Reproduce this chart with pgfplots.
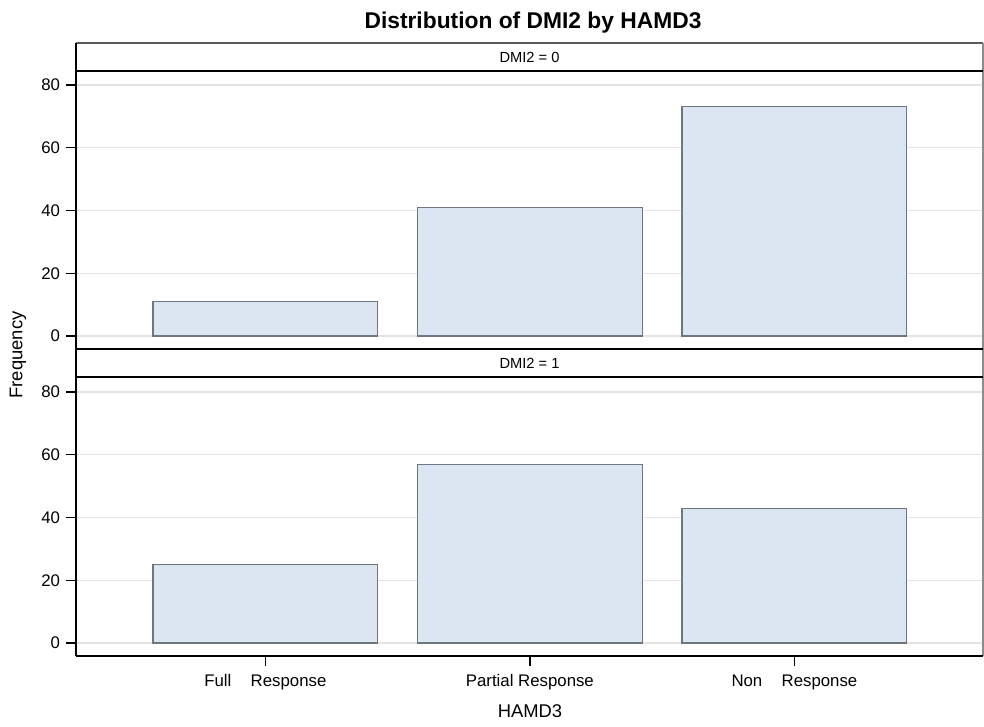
\documentclass[border=0pt]{standalone}
\usepackage{fontspec}
\setmainfont{Liberation Sans}
\usepackage{pgfplots}
\pgfplotsset{compat=1.18}
\definecolor{barfill}{RGB}{220,230,242}
\definecolor{barline}{RGB}{112,118,126}
\definecolor{gridc}{RGB}{228,228,228}
\pgfplotsset{panel/.style={
  scale only axis, width=680.25pt,
  xmin=-0.716, xmax=2.713,
  ytick={0,20,40,60,80},
  ymajorgrids, grid style={draw=gridc, line width=0.9pt},
  axis line style={draw=none},
  tick pos=left, tick align=outside,
  major tick length=7.5pt,
  tick style={black, line width=1.1pt},
  tick label style={font=\fontsize{12.6}{15}\selectfont},
  /pgf/number format/assume math mode=true,
  yticklabel style={xshift=-1pt},
  ybar, bar width=0.85,
  clip=false,
}}
\begin{document}
\begin{tikzpicture}[x=0.75pt,y=0.75pt]
\path[use as bounding box] (0,0) rectangle (984,-727);
\begin{axis}[panel, at={(57pt,-53.25pt)}, anchor=north west,
  height=208.5pt, ymin=-4.143, ymax=84.46, xtick=\empty]
\addplot[fill=barfill, draw=barline, line width=0.8pt] coordinates {(0,11) (1,41) (2,73)};
\end{axis}
\begin{axis}[panel, at={(57pt,-282.75pt)}, anchor=north west,
  height=209.25pt, ymin=-4.143, ymax=84.78,
  xtick={0,1,2},
  xticklabels={Full\hspace{1.15em}Response, Partial Response, Non\hspace{1.15em}Response},
  xticklabel style={yshift=-3pt}]
\addplot[fill=barfill, draw=barline, line width=0.8pt] coordinates {(0,25) (1,57) (2,43)};
\end{axis}
% frame and header strips
\draw[black!65, line width=1.3pt] (76,-43) -- (983,-43);
\draw[black!45, line width=0.8pt] (983,-43) -- (983,-656);
\draw[black, line width=2.2pt] (76,-71) -- (983,-71);
\draw[black, line width=2.2pt] (76,-349) -- (983,-349);
\draw[black, line width=2.2pt] (76,-377) -- (983,-377);
\draw[black, line width=1.5pt] (76,-656) -- (983,-656);
\draw[black, line width=1.5pt] (76,-43) -- (76,-656);
\node[font=\fontsize{11}{13}\selectfont] at (529.5,-57.5) {DMI2 = 0};
\node[font=\fontsize{11}{13}\selectfont] at (529.5,-363.5) {DMI2 = 1};
\node[font=\bfseries\fontsize{17.1}{20}\selectfont] at (533,-23) {Distribution of DMI2 by HAMD3};
\node[font=\fontsize{13.8}{16}\selectfont] at (530,-711) {HAMD3};
\node[font=\fontsize{13.8}{16}\selectfont, rotate=90] at (18,-355) {Frequency};
\end{tikzpicture}
\end{document}
